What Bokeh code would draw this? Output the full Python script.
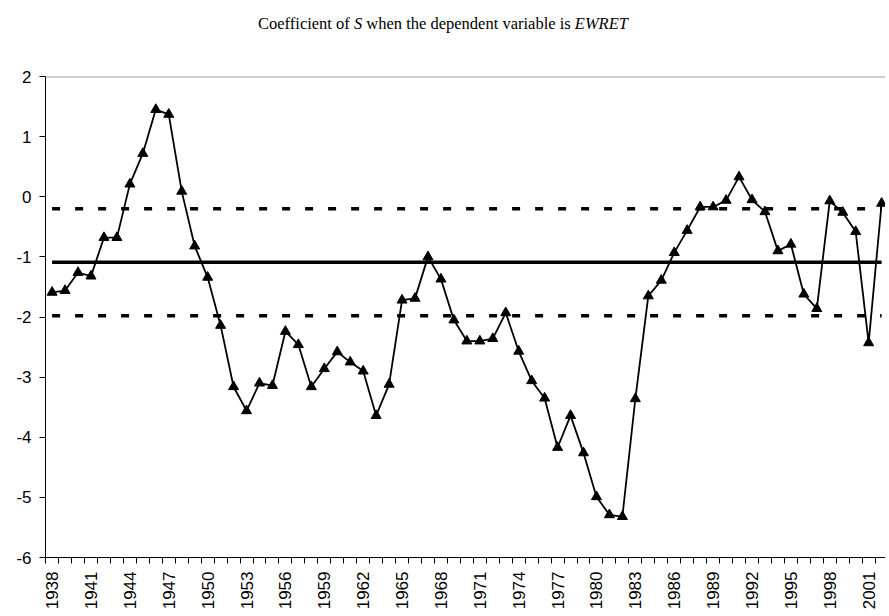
import math
from bokeh.plotting import figure
from bokeh.models import Range1d, FixedTicker, Span, Div
from bokeh.layouts import column
from bokeh.embed import file_html
from bokeh.resources import INLINE

# ---- data ----
years = list(range(1938, 2003))
coef = [-1.59, -1.56, -1.26, -1.32, -0.68, -0.68, 0.21, 0.72, 1.45, 1.37,
        0.09, -0.82, -1.34, -2.14, -3.16, -3.56, -3.10, -3.14, -2.24, -2.46,
        -3.16, -2.86, -2.58, -2.75, -2.90, -3.64, -3.12, -1.72, -1.69, -1.00,
        -1.37, -2.05, -2.40, -2.40, -2.36, -1.93, -2.57, -3.06, -3.35, -4.17,
        -3.64, -4.26, -4.99, -5.29, -5.32, -3.36, -1.65, -1.39, -0.93, -0.56,
        -0.17, -0.17, -0.06, 0.33, -0.05, -0.25, -0.90, -0.79, -1.62, -1.86,
        -0.07, -0.26, -0.58, -2.43, -0.11]
mean_value = -1.09
upper_band = -0.20
lower_band = -1.98
x_tick_labels = ["1938", "1941", "1944", "1947", "1950", "1953", "1956", "1959",
                 "1962", "1965", "1968", "1971", "1974", "1977", "1980", "1983",
                 "1986", "1989", "1992", "1995", "1998", "2001"]
y_ticks = [-6, -5, -4, -3, -2, -1, 0, 1, 2]
title_html = ("Coefficient of <i>S</i> when the dependent variable is "
              "<i>EWRET</i>")

title = Div(text=('<div style="width:886px;text-align:center;'
                  "font-family:'Liberation Serif';font-size:16.5px;"
                  'color:black;padding-top:12px;">' + title_html + '</div>'),
            width=886, height=40, margin=(0, 0, 0, 0))

p = figure(frame_width=840, frame_height=481, output_backend="svg",
           toolbar_location=None, x_range=Range1d(1937.49, 2002.3),
           y_range=Range1d(-6, 2),
           min_border_left=45, min_border_right=0, min_border_top=36,
           min_border_bottom=57, margin=(0, 0, 0, 0))
p.outline_line_color = None
p.xgrid.visible = False
p.ygrid.visible = False
p.background_fill_color = "white"
p.border_fill_color = "white"

# x axis: labels at category centres, small ticks at category boundaries
xa = p.xaxis[0]
tick_vals = [int(s) for s in x_tick_labels]
xa.ticker = FixedTicker(ticks=tick_vals,
                        minor_ticks=[y - 0.5 for y in years] + [years[-1] + 0.5])
xa.major_label_overrides = {v: s for v, s in zip(tick_vals, x_tick_labels)}
xa.major_tick_out = 0
xa.major_tick_in = 0
xa.minor_tick_out = 6
xa.minor_tick_in = 0
xa.minor_tick_line_color = "black"
xa.axis_line_color = "black"
xa.axis_line_width = 1
xa.major_label_orientation = math.pi / 2
xa.major_label_standoff = 8
xa.major_label_text_font = "Liberation Sans"
xa.major_label_text_font_size = "17px"
xa.major_label_text_color = "black"

ya = p.yaxis[0]
ya.ticker = FixedTicker(ticks=y_ticks, minor_ticks=[])
ya.major_label_overrides = {v: str(v) for v in y_ticks}
ya.major_tick_out = 6
ya.major_tick_in = 0
ya.major_tick_line_color = "black"
ya.axis_line_color = "black"
ya.major_label_standoff = 8
ya.major_label_text_font = "Liberation Sans"
ya.major_label_text_font_size = "17px"
ya.major_label_text_color = "black"

p.add_layout(Span(location=y_ticks[-1], dimension="width",
                  line_color="#a0a0a0", line_width=2))

# reference lines
x_ends = [years[0], years[-1]]
p.line(x_ends, [mean_value, mean_value], line_color="black", line_width=3.5)
p.line(x_ends, [upper_band, upper_band], line_color="black", line_width=3.5,
       line_dash="8 15")
p.line(x_ends, [lower_band, lower_band], line_color="black", line_width=3.5,
       line_dash="8 15")

# series
p.line(years, coef, line_color="black", line_width=1.8)
p.scatter(years, coef, marker="triangle", size=10, fill_color="black",
          line_color="black")

layout = column(title, p, spacing=0)
open("out.html", "w").write(file_html(layout, INLINE))
